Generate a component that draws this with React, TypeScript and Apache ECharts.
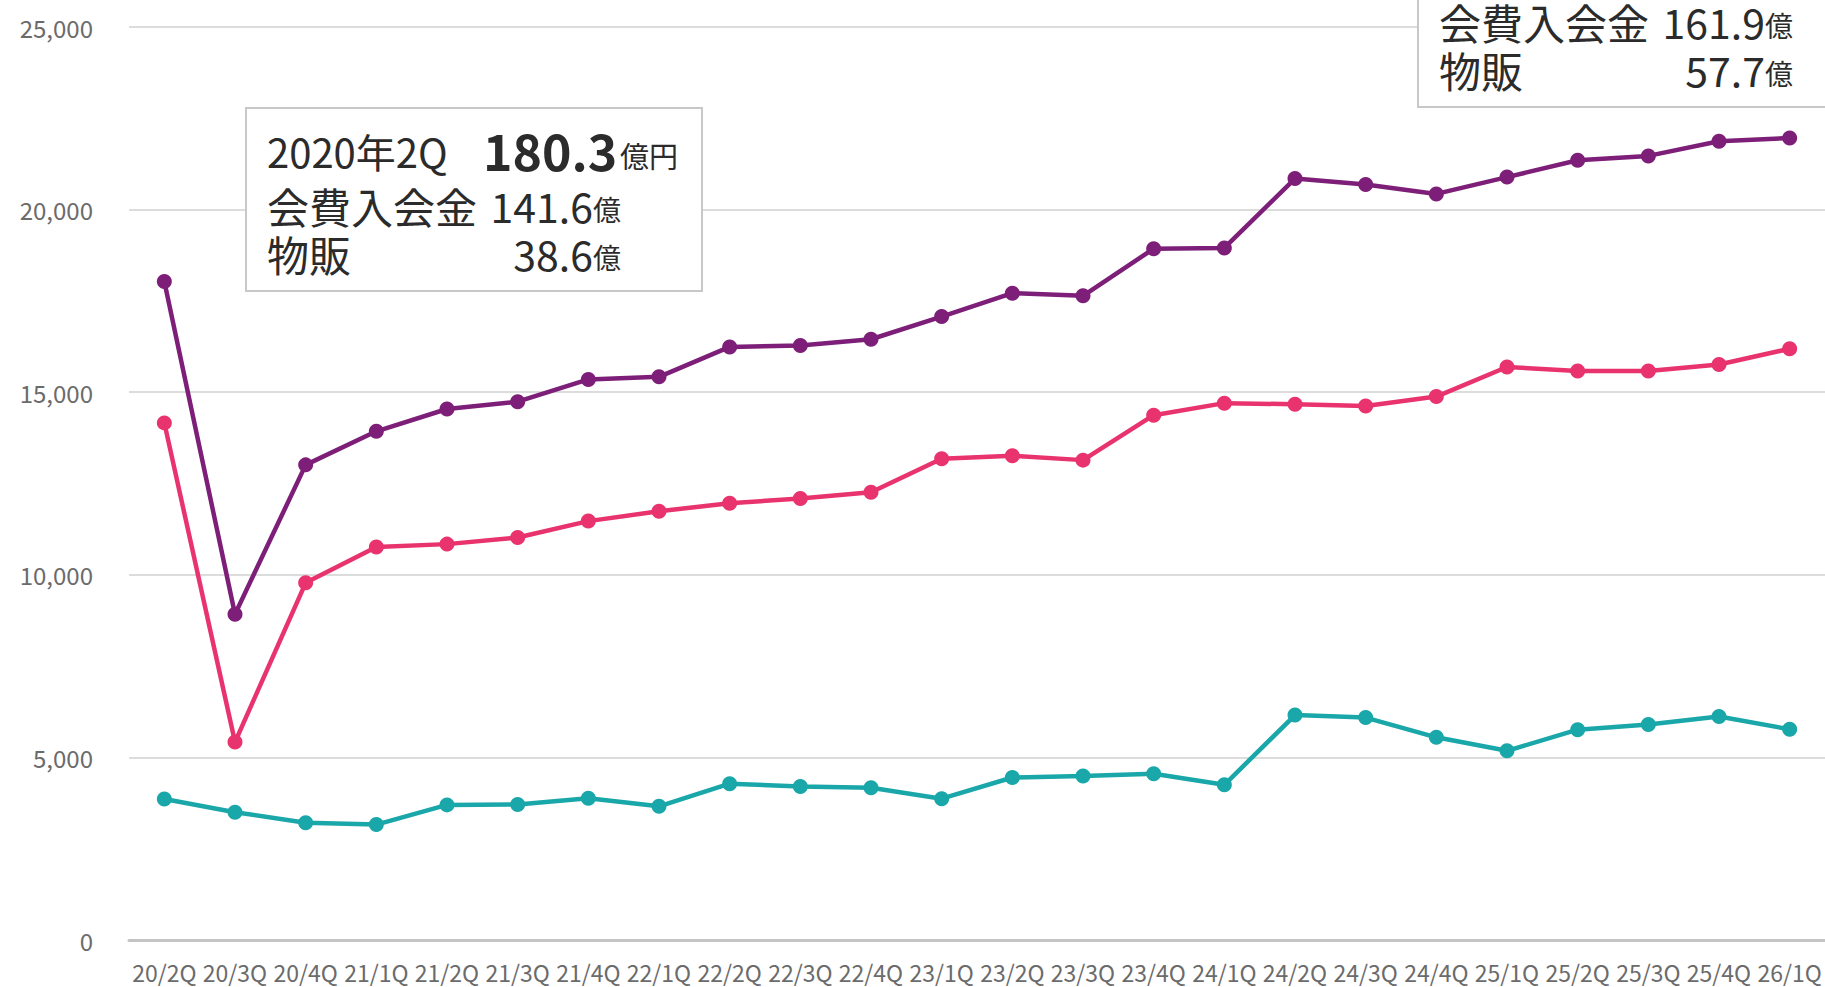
import React, { useEffect, useRef } from "react";
import * as echarts from "echarts";

const categories = [
  "20/2Q", "20/3Q", "20/4Q",
  "21/1Q", "21/2Q", "21/3Q", "21/4Q",
  "22/1Q", "22/2Q", "22/3Q", "22/4Q",
  "23/1Q", "23/2Q", "23/3Q", "23/4Q",
  "24/1Q", "24/2Q", "24/3Q", "24/4Q",
  "25/1Q", "25/2Q", "25/3Q", "25/4Q",
  "26/1Q",
];

// 合計 (百万円)
const totalValues = [
  18030, 8920, 13010, 13930, 14540, 14740, 15350, 15420, 16240, 16280, 16450, 17070,
  17710, 17640, 18930, 18950, 20850, 20690, 20430, 20890, 21350, 21470, 21870, 21960,
];
// 会費入会金
const membershipValues = [
  14160, 5420, 9780, 10760, 10840, 11020, 11470, 11740, 11960, 12090, 12260, 13180,
  13260, 13140, 14370, 14700, 14670, 14620, 14880, 15690, 15580, 15580, 15760, 16190,
];
// 物販
const goodsValues = [
  3860, 3500, 3210, 3160, 3700, 3710, 3880, 3660, 4280, 4200, 4170, 3870,
  4450, 4490, 4550, 4250, 6160, 6090, 5550, 5180, 5760, 5900, 6120, 5770,
];

const yTicks = [0, 5000, 10000, 15000, 20000, 25000];

const FONT = "'Noto Sans CJK JP', 'Noto Sans', sans-serif";
const PURPLE = "#7d1f78";
const PINK = "#e8336e";
const TEAL = "#1aa7a9";

const oku = (v: number) => (v / 100).toFixed(1);

function buildBox(
  x: number,
  y: number,
  title: string,
  total: number,
  membership: number,
  goods: number
) {
  const W = 456;
  const H = 183;
  const txt = (
    tx: number,
    ty: number,
    text: string,
    size: number,
    align: string,
    weight: string = "normal"
  ) => ({
    type: "text",
    x: tx,
    y: ty,
    z: 101,
    style: {
      text,
      fill: "#2b2b2b",
      font: `${weight} ${size}px ${FONT}`,
      fontSize: size,
      fontFamily: FONT,
      fontWeight: weight,
      lineHeight: size,
      align,
      textAlign: align,
      verticalAlign: "middle",
      textVerticalAlign: "middle",
    },
  });
  return {
    type: "group",
    x,
    y,
    z: 100,
    children: [
      {
        type: "rect",
        z: 100,
        shape: { x: 0, y: 0, width: W, height: H },
        style: { fill: "#ffffff", stroke: "#c8c8c8", lineWidth: 2 },
      },
      txt(21, 43, title, 40, "left"),
      txt(237, 41, oku(total), 50, "left", "bold"),
      txt(432, 47, "億円", 29, "right"),
      txt(21, 97, "会費入会金", 42, "left"),
      txt(347, 97, oku(membership), 41, "right"),
      txt(347, 101, "億", 28, "left"),
      txt(21, 145, "物販", 42, "left"),
      txt(347, 145, oku(goods), 41, "right"),
      txt(347, 149, "億", 28, "left"),
    ],
  };
}

export default function App() {
  const ref = useRef<HTMLDivElement>(null);

  useEffect(() => {
    document.body.style.margin = "0";
    if (!ref.current) return;
    const chart = echarts.init(ref.current, null, { renderer: "svg" });
    const last = categories.length - 1;
    const lineSeries = (name: string, data: number[], color: string, z: number) => ({
      name,
      type: "line",
      data,
      z,
      symbol: "circle",
      symbolSize: 15,
      showSymbol: true,
      lineStyle: { color, width: 4.5 },
      itemStyle: { color },
      emphasis: { disabled: true },
    });
    chart.setOption({
      animation: false,
      backgroundColor: "#ffffff",
      textStyle: { fontFamily: FONT },
      grid: { left: 129, right: 0, top: 27, bottom: 47, containLabel: false },
      xAxis: {
        type: "category",
        data: categories,
        boundaryGap: true,
        axisTick: { show: false },
        axisLine: { show: true, lineStyle: { color: "#c4c4c4", width: 3 } },
        axisLabel: {
          interval: 0,
          fontSize: 23,
          color: "#6b6b6b",
          fontFamily: FONT,
          margin: 20,
        },
        splitLine: { show: false },
      },
      yAxis: {
        type: "value",
        min: yTicks[0],
        max: yTicks[yTicks.length - 1],
        interval: yTicks[1] - yTicks[0],
        axisLine: { show: false },
        axisTick: { show: false },
        axisLabel: {
          fontSize: 24,
          color: "#6b6b6b",
          fontFamily: FONT,
          margin: 36,
          formatter: (v: number) => v.toLocaleString("en-US"),
        },
        splitLine: { show: true, lineStyle: { color: "#dcdcdc", width: 2 } },
      },
      series: [
        lineSeries("物販", goodsValues, TEAL, 2),
        lineSeries("会費入会金", membershipValues, PINK, 3),
        lineSeries("合計", totalValues, PURPLE, 4),
      ],
      graphic: [
        buildBox(
          246,
          108,
          "2020年2Q",
          totalValues[0],
          membershipValues[0],
          goodsValues[0]
        ),
        buildBox(
          1418,
          -76,
          "2026年1Q",
          totalValues[last],
          membershipValues[last],
          goodsValues[last]
        ),
      ],
    });
    return () => chart.dispose();
  }, []);

  return <div ref={ref} style={{ width: 1825, height: 987 }} />;
}
